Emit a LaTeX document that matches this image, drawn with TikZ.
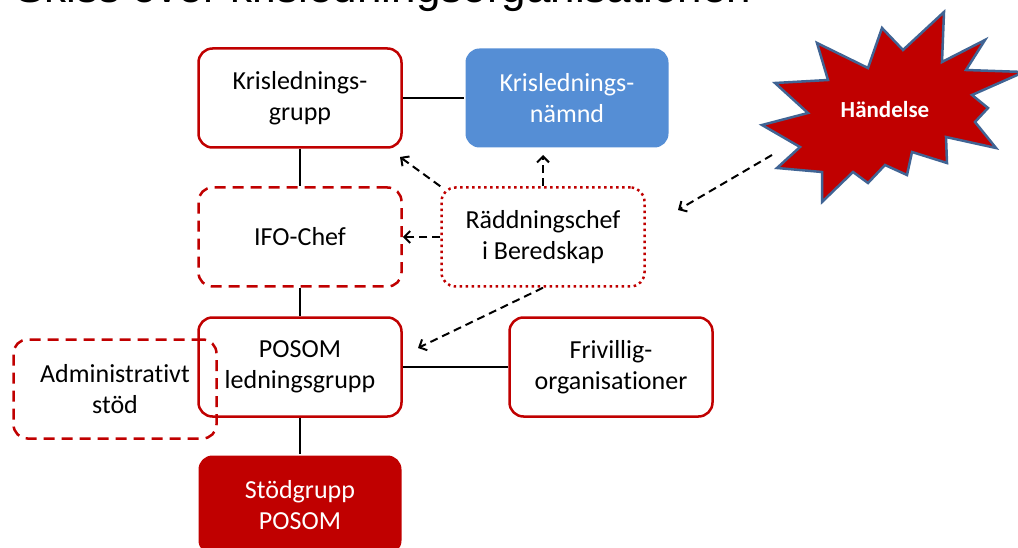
\documentclass[tikz,border=0pt]{standalone}
\usepackage{fontspec}
\setmainfont{Carlito}[Ligatures=NoCommon]
\newfontfamily\titlefont{Liberation Sans}
\usetikzlibrary{positioning,arrows.meta}
\definecolor{kredred}{RGB}{192, 0, 0}
\definecolor{kredblue}{RGB}{85, 142, 213}
\definecolor{kredsteel}{RGB}{64, 100, 148}

\begin{document}
\begin{tikzpicture}[x=1pt, y=-1pt,
    orgbox/.style={draw=kredred, line width=2.5pt, rounded corners=14pt,
        minimum width=203pt, minimum height=99pt, inner sep=0pt,
        align=center, font=\fontsize{26}{31}\selectfont},
    solidbox/.style={orgbox, fill=white},
    dashbox/.style={orgbox, dash pattern=on 11pt off 7pt},
    dotbox/.style={orgbox, dash pattern=on 2.5pt off 3.5pt},
    fillbox/.style={orgbox, draw=none, text=white},
    link/.style={line width=2.6pt},
    hint/.style={-{Straight Barb[length=6pt, width=12pt]}, line width=2pt,
        dash pattern=on 8pt off 5pt}]
    \clip (0,0) rectangle (1018,548);

    % Title (cut off at the top)
    \node[anchor=base west, inner sep=0pt, font=\titlefont\fontsize{44}{50}\selectfont] (title) at (15,3) {Skiss över krisledningsorganisationen};

    % Boxes
    \node[solidbox] (kgrupp) at (300,98) {Krislednings-\\grupp};
    \node[fillbox, fill=kredblue] (knamnd) at (567,98) {Krislednings-\\nämnd};
    \node[dashbox] (ifo) at (300,237) {IFO-Chef};
    \node[dotbox] (rib) at (543,237) {Räddningschef\\i Beredskap};
    \node[solidbox] (posom) at (300,367) {POSOM\\ledningsgrupp};
    \node[dashbox] (admin) at (115,389) {Administrativt\\stöd};
    \node[solidbox] (frivillig) at (611,367) {Frivillig-\\organisationer};
    \node[fillbox, fill=kredred] (stod) at (300,505) {Stödgrupp\\POSOM};

    % Händelse star
    \fill[kredred, draw=kredsteel, line width=2.5pt, line join=miter]
        (762,125) -- (808,113) -- (775,83) -- (828,80) -- (817,43) -- (868,68)
        -- (882,28) -- (903,50) -- (944,12) -- (942,62) -- (985,40) -- (966,70)
        -- (1024,72) -- (972,95) -- (988,108) -- (975,122) -- (996,148) -- (946,137)
        -- (947,163) -- (912,152) -- (907,175) -- (885,165) -- (868,183) -- (853,172)
        -- (822,202) -- (822,172) -- (777,168) -- (800,147) -- cycle;
    \node[text=white, font=\bfseries\fontsize{23}{28}\selectfont] (handelse) at (885,110) {Händelse};

    % Solid connectors
    \draw[link] (kgrupp) -- (knamnd);
    \draw[link] (kgrupp) -- (ifo);
    \draw[link] (ifo) -- (posom);
    \draw[link] (posom) -- (frivillig);
    \draw[link] (posom) -- (stod);

    % Dashed arrows
    \coordinate (kgtip) at (400,157);
    \coordinate (kntip) at (543,155);
    \coordinate (potip) at (418,348);
    \coordinate (hstart) at (772,155);
    \coordinate (htip) at (678,210);
    \draw[hint] (rib.north west) -- (kgtip);
    \draw[hint] (rib.north) -- (kntip);
    \draw[hint] (rib.west) -- (ifo.east);
    \draw[hint] (rib.south) -- (potip);
    \draw[hint] (hstart) -- (htip);
\end{tikzpicture}
\end{document}
